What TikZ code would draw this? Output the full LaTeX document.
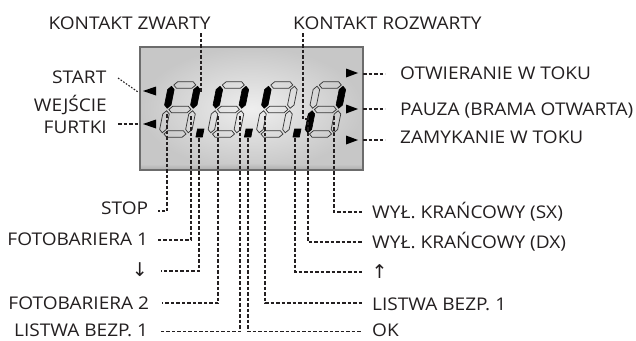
\documentclass[tikz,border=0pt]{standalone}
\usepackage{fontspec}
\setmainfont{Open Sans}[FakeStretch=1.09]
\newfontfamily\arrowfont{DejaVu Sans}
\definecolor{txt}{RGB}{35,31,32}
\definecolor{segline}{RGB}{55,55,55}
\definecolor{frame}{RGB}{108,108,108}
\newcommand\hsegm[3]{\path[#3] (#1,#2) ++(-11,0) -- ++(3.25,3.25) -- ++(15.5,0) -- ++(3.25,-3.25) -- ++(-3.25,-3.25) -- ++(-15.5,0) -- cycle;}
\newcommand\vsegm[3]{\path[#3] (#1,#2) ++(0,-11) -- ++(3.25,3.25) -- ++(0,15.5) -- ++(-3.25,3.25) -- ++(-3.25,-3.25) -- ++(0,-15.5) -- cycle;}
% digit: x0, a, b, c, d, e, f, g
\newcommand\sevdigit[8]{%
  \begin{scope}[shift={(#1,134)},xslant=0.2,yscale=-1]
    \hsegm{13}{49}{#2}
    \vsegm{26}{36.75}{#3}
    \vsegm{26}{12.25}{#4}
    \hsegm{13}{0}{#5}
    \vsegm{0}{12.25}{#6}
    \vsegm{0}{36.75}{#7}
    \hsegm{13}{24.5}{#8}
  \end{scope}}
\newcommand\decpt[1]{%
  \begin{scope}[shift={(#1,134)},xslant=0.2,yscale=-1]
    \path[segon] (34.5,-3) -- (41,-3) -- (41,5) -- (34.5,5) -- cycle;
  \end{scope}}
\begin{document}
\begin{tikzpicture}[x=1pt,y=-1pt,
  lbl/.style={font=\fontsize{17.5}{21.6}\selectfont, text=txt, inner sep=0pt},
  arr/.style={font=\arrowfont\fontsize{19}{21}\selectfont, text=txt, inner sep=0pt},
  conn/.style={draw=txt, line width=1.2pt, dash pattern=on 3.5pt off 2pt},
  dotc/.style={draw=txt, line width=1.1pt, dash pattern=on 1.6pt off 1.6pt},
  segoff/.style={draw=segline, line width=0.75pt},
  segon/.style={draw=black, line width=0.6pt, fill=black},
  tri/.style={fill=black}]
\useasboundingbox (0,0) rectangle (636,340);
\fill[white] (0,0) rectangle (636,340);

% display
\path[shading=radial, inner color=gray!13, outer color=gray!44] (140,47) rectangle (363,170);
\path[top color=gray!44, bottom color=gray!64] (140,164) rectangle (363,170);
\draw[frame, line width=2.2pt] (140,47) rectangle (363,170);

% digits
\sevdigit{162}{segoff}{segon}{segoff}{segoff}{segoff}{segon}{segoff}
\sevdigit{210.5}{segoff}{segon}{segoff}{segoff}{segoff}{segon}{segoff}
\sevdigit{259}{segoff}{segoff}{segoff}{segoff}{segoff}{segon}{segoff}
\sevdigit{307.5}{segoff}{segon}{segoff}{segoff}{segon}{segoff}{segoff}
\decpt{162}
\decpt{210.5}
\decpt{259}

% indicator triangles
\fill[tri] (143,91) -- (156,86.5) -- (156,95.5) -- cycle;
\fill[tri] (143,124) -- (156,119.5) -- (156,128.5) -- cycle;
\fill[tri] (358,73) -- (346,68.5) -- (346,77.5) -- cycle;
\fill[tri] (358,109) -- (346,104.5) -- (346,113.5) -- cycle;
\fill[tri] (358,140) -- (346,135.5) -- (346,144.5) -- cycle;

% labels
\node[lbl, anchor=base] (kz) at (129.5,29) {KONTAKT ZWARTY};
\node[lbl, anchor=base west] (kr) at (293,29) {KONTAKT ROZWARTY};
\node[lbl, anchor=base east] (start) at (106.5,83) {START};
\node[lbl, anchor=base east, align=right] (wej) at (107,133.3) {WEJŚCIE\\FURTKI};
\node[lbl, anchor=base west] (otw) at (400,79.3) {OTWIERANIE W TOKU};
\node[lbl, anchor=base west] (pau) at (400,115) {PAUZA (BRAMA OTWARTA)};
\node[lbl, anchor=base west] (zam) at (400,143.5) {ZAMYKANIE W TOKU};
\node[lbl, anchor=base east] (stop) at (148.3,214.3) {STOP};
\node[lbl, anchor=base east] (f1) at (148.3,245.7) {FOTOBARIERA 1};
\node[arr, anchor=base east] (down) at (148,276) {↓};
\node[lbl, anchor=base east] (f2) at (149.3,309.3) {FOTOBARIERA 2};
\node[lbl, anchor=base east] (lb1) at (148.3,336.5) {LISTWA BEZP. 1};
\node[lbl, anchor=base west] (sx) at (372,218.3) {WYŁ. KRAŃCOWY (SX)};
\node[lbl, anchor=base west] (dx) at (372,248.3) {WYŁ. KRAŃCOWY (DX)};
\node[arr, anchor=base west] (up) at (371.5,278) {↑};
\node[lbl, anchor=base west] (lb2) at (372,310) {LISTWA BEZP. 1};
\node[lbl, anchor=base west] (ok) at (372,336.5) {OK};

% connector end points
\coordinate (kzA) at (201,33);  \coordinate (kzB) at (201,92);
\coordinate (krA) at (303,33);  \coordinate (krB) at (307,119);
\coordinate (stA) at (118,78);  \coordinate (stB) at (138,92);
\coordinate (wjA) at (118,124); \coordinate (wjB) at (138,124);
\coordinate (otA) at (363,74);  \coordinate (otB) at (385,74);
\coordinate (paA) at (363,109); \coordinate (paB) at (385,109);
\coordinate (zaA) at (363,140); \coordinate (zaB) at (385,140);
\coordinate (sStop) at (167,114); \coordinate (eStop) at (158,211);
\coordinate (sF1) at (191,116);   \coordinate (eF1) at (156,240);
\coordinate (sDn) at (199,138);   \coordinate (eDn) at (161,271);
\coordinate (sF2) at (218,116);   \coordinate (eF2) at (162,303);
\coordinate (sL1) at (240,116);   \coordinate (eL1) at (160,331.5);
\coordinate (sOk) at (248,138);   \coordinate (eOk) at (362,331.5);
\coordinate (sL2) at (265,116);   \coordinate (eL2) at (362,303);
\coordinate (sUp) at (295,138);   \coordinate (eUp) at (362,272);
\coordinate (sDx) at (308,116);   \coordinate (eDx) at (362,242);
\coordinate (sSx) at (334,116);   \coordinate (eSx) at (362,212);

% connectors
\draw[conn] (kzA) -- (kzB);
\draw[conn] (krA) |- (krB);
\draw[dotc] (stA) -- (stB);
\draw[conn] (wjA) -- (wjB);
\draw[conn] (otA) -- (otB);
\draw[conn] (paA) -- (paB);
\draw[conn] (zaA) -- (zaB);
\draw[conn] (sStop) |- (eStop);
\draw[conn] (sF1) |- (eF1);
\draw[conn] (sDn) |- (eDn);
\draw[conn] (sF2) |- (eF2);
\draw[conn] (sL1) |- (eL1);
\draw[conn] (sOk) |- (eOk);
\draw[conn] (sL2) |- (eL2);
\draw[conn] (sUp) |- (eUp);
\draw[conn] (sDx) |- (eDx);
\draw[conn] (sSx) |- (eSx);
\end{tikzpicture}
\end{document}
